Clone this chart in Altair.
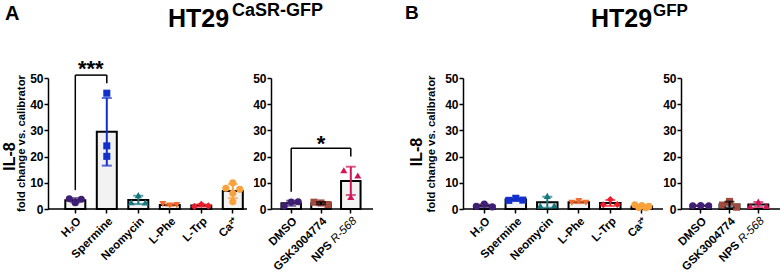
import altair as alt
import pandas as pd
import numpy as np

# ---------------- data ----------------
LEFT_CATS = ["H₂O", "Spermine", "Neomycin", "L-Phe", "L-Trp", "Ca²⁺"]
RIGHT_CATS = ["DMSO", "GSK3004774", "NPS R-568"]
Y_TICKS = [0, 10, 20, 30, 40, 50]

# Panel A: HT29 CaSR-GFP
A_H2O = [3.9, 3.7, 2.4]
A_SPERMINE = [44.2, 24.1, 20.1]
A_NEOMYCIN = [5.3, 2.6, 2.5]
A_LPHE = [1.9, 1.3, 1.5]
A_LTRP = [1.8, 1.0, 1.2]
A_CA = [10.0, 7.9, 7.5, 6.0, 2.8]
A_DMSO = [1.1, 2.7, 2.8]
A_GSK = [2.6, 2.3, 1.7]
A_NPS = [14.8, 12.8, 4.6]

# Panel B: HT29 GFP
B_H2O = [1.0, 1.9, 0.8]
B_SPERMINE = [3.3, 4.1, 3.4]
B_NEOMYCIN = [5.0, 1.3, 1.4]
B_LPHE = [2.4, 3.0, 2.4]
B_LTRP = [3.6, 1.6, 1.7]
B_CA = [1.6, 1.3, 1.0, 0.6, 0.5]
B_DMSO = [1.2, 1.3, 1.2]
B_GSK = [2.9, 1.5, 0.7]
B_NPS = [2.8, 1.1, 1.2]

# ---------------- styles ----------------
LEFT_COLORS = ["#3E1F73", "#1430CC", "#17777E", "#F26A2C", "#EE1C2B", "#F9A13C"]
RIGHT_COLORS = ["#3E1F73", "#A4493D", "#CF1458"]
LEFT_ERR = LEFT_COLORS
RIGHT_ERR = ["#3E1F73", "black", "#CF1458"]
LEFT_SHAPES = ["circle", "square", "triangle-up", "triangle-down", "diamond", "circle"]
RIGHT_SHAPES = ["circle", "square", "triangle-up"]

A_LEFT_OFFS = [[-6, 6, 0], [0, 0, 0], [0, -7, 7], [-7, 0, 7], [0, -7, 7], [0, -7, 7, 0, 0]]
A_RIGHT_OFFS = [[-7, 0, 7], [-7, 0, 7], [-7, 7, 0]]
B_LEFT_OFFS = [[-8, 0, 8], [-7, 0, 7], [0, -7, 7], [-7, 0, 7], [0, -7, 7], [-7, 0, 7, -3, 4]]
B_RIGHT_OFFS = [[-8, 0, 8], [0, -7, 7], [0, -8, 8]]

H = 131
FONT = "Liberation Sans"
XLAB_SIZE = 11.5
ONE = pd.DataFrame({"k": [0]})
NPS_CAT = RIGHT_CATS[2]


def band_scale(cats, R, s, b, c0):
    n = len(cats)
    pi = 1 - b / s
    po = min(max((R / s - n + pi) / 2, 0), 1)
    free = R - s * (n - pi)
    align = min(max((c0 - b / 2) / free, 0), 1)
    return alt.Scale(domain=cats, range=[0, R], paddingInner=pi, paddingOuter=po, align=align)


def text(t, x, y, size, weight="bold", align="left", baseline="alphabetic", angle=0, style="normal"):
    kw = dict(text=t, fontSize=size, fontWeight=weight, align=align, baseline=baseline,
              color="black", font=FONT, fontStyle=style)
    if angle:
        kw["angle"] = angle
    return alt.Chart(ONE).mark_text(**kw).encode(x=alt.value(x), y=alt.value(y))


def anchor(x, y):
    return alt.Chart(ONE).mark_rule(opacity=0, strokeWidth=0).encode(
        x=alt.value(x), x2=alt.value(x), y=alt.value(y), y2=alt.value(y))


def panel(cats, groups, colors, errcolors, shapes, offsets, W, s, b, c0, axis_len, extras):
    rows, summ = [], []
    for cat, vals, col, ecol, shp, offs in zip(cats, groups, colors, errcolors, shapes, offsets):
        arr = np.array(vals, dtype=float)
        m = arr.mean()
        sd = arr.std(ddof=1)
        summ.append(dict(cat=cat, mean=m, lo=max(m - sd, 0), hi=m + sd, ecol=ecol))
        for v, o in zip(vals, offs):
            rows.append(dict(cat=cat, val=v, off=o, col=col, shp=shp))
    sdf = pd.DataFrame(summ)
    pdf = pd.DataFrame(rows)

    xaxis = alt.Axis(labelAngle=-45, labelFontWeight="bold", labelFontSize=XLAB_SIZE,
                     labelColor="black", labelFont=FONT, tickColor="black", tickWidth=1.5,
                     tickSize=4, domain=False, labelPadding=2, title=None, grid=False,
                     labelAlign="right", labelBaseline="top",
                     labelExpr=f"datum.label == '{NPS_CAT}' ? '' : datum.label")
    yaxis = alt.Axis(values=Y_TICKS, labelFontWeight="bold", labelFontSize=12, labelColor="black",
                     labelFont=FONT, domainColor="black", domainWidth=1.5, tickColor="black",
                     tickWidth=1.5, tickSize=4, labelPadding=1, grid=False, title=None)
    sc = band_scale(cats, axis_len, s, b, c0)
    ysc = alt.Scale(domain=[0, 50], nice=False)

    def X():
        return alt.X("cat:N", scale=sc, axis=xaxis, title=None)

    def Y(f):
        return alt.Y(f, scale=ysc, axis=yaxis, title=None)

    bars = alt.Chart(sdf).mark_bar(fill="#F2F2F2", stroke="black", strokeWidth=2).encode(
        x=X(), y=Y("mean:Q"))
    base = alt.Chart(ONE).mark_rule(color="black", strokeWidth=1.5).encode(
        x=alt.value(0), x2=alt.value(axis_len), y=alt.value(H))
    pts = alt.Chart(pdf).mark_point(filled=True, size=50, opacity=1, strokeWidth=0,
                                    xOffset={"expr": "datum.off"}).encode(
        x=X(), y=Y("val:Q"),
        color=alt.Color("col:N", scale=None), shape=alt.Shape("shp:N", scale=None))
    err = alt.Chart(sdf).mark_rule(strokeWidth=2).encode(
        x=X(), y=Y("lo:Q"), y2="hi:Q", color=alt.Color("ecol:N", scale=None))
    cap_lo = alt.Chart(sdf).mark_tick(thickness=2, size=10).encode(
        x=X(), y=Y("lo:Q"), color=alt.Color("ecol:N", scale=None))
    cap_hi = alt.Chart(sdf).mark_tick(thickness=2, size=10).encode(
        x=X(), y=Y("hi:Q"), color=alt.Color("ecol:N", scale=None))

    layers = [bars, base, pts, err, cap_lo, cap_hi]
    if NPS_CAT in cats:
        ndf = pd.DataFrame({"cat": [NPS_CAT]})
        # "NPS R-568" label drawn in two parts: bold "NPS" and italic "R-568"
        layers.append(alt.Chart(ndf).mark_text(
            text="R-568", fontSize=XLAB_SIZE, fontStyle="italic", fontWeight="normal",
            font=FONT, color="black", angle=315, align="right", baseline="top").encode(
            x=X(), y=alt.value(H + 6)))
        layers.append(alt.Chart(ndf).mark_text(
            text="NPS", fontSize=XLAB_SIZE, fontWeight="bold", dx=-XLAB_SIZE * 3.0,
            font=FONT, color="black", angle=315, align="right", baseline="top").encode(
            x=X(), y=alt.value(H + 6)))
    for e in extras:
        layers.append(e(X, Y))
    return alt.layer(*layers).properties(width=W, height=H)


def bracket(c1, c2, top, b1, b2):
    def make(X, Y):
        df = pd.DataFrame({"cat": [c1, c2], "bot": [b1, b2], "top": [top, top]})
        legs = alt.Chart(df).mark_rule(color="black", strokeWidth=1.5).encode(
            x=X(), y=Y("bot:Q"), y2="top:Q")
        dh = pd.DataFrame({"cat": [c1], "cat2": [c2], "top": [top]})
        horiz = alt.Chart(dh).mark_rule(color="black", strokeWidth=1.5).encode(
            x=X(), x2="cat2:N", y=Y("top:Q"))
        return alt.layer(legs, horiz)
    return make


def fixed(ch):
    return lambda X, Y: ch


# ---------------- panels ----------------
p1 = panel(LEFT_CATS, [A_H2O, A_SPERMINE, A_NEOMYCIN, A_LPHE, A_LTRP, A_CA],
           LEFT_COLORS, LEFT_ERR, LEFT_SHAPES, A_LEFT_OFFS,
           W=223, s=31.5, b=20, c0=27.3, axis_len=199,
           extras=[
               bracket("H₂O", "Spermine", 51.1, 7.2, 48.0),
               fixed(text("***", 42.8, -2.4, 22, align="center")),
               fixed(anchor(-48, -78)),
               fixed(text("A", -43, -58, 20)),
               fixed(text("HT29", 120, -51, 25)),
               fixed(text("CaSR-GFP", 184, -62.5, 18)),
               fixed(text("IL-8", -38.5, 78.5, 16, align="center", baseline="middle", angle=270)),
               fixed(text("fold change vs. calibrator", -25.7, 65.5, 11.3,
                          align="center", baseline="middle", angle=270)),
           ])

p2 = panel(RIGHT_CATS, [A_DMSO, A_GSK, A_NPS],
           RIGHT_COLORS, RIGHT_ERR, RIGHT_SHAPES, A_RIGHT_OFFS,
           W=192, s=29.8, b=19.5, c0=20.2, axis_len=102,
           extras=[
               bracket("DMSO", NPS_CAT, 23.2, 6.6, 20.0),
               fixed(text("*", 50, 72.6, 22, align="center")),
           ])

p3 = panel(LEFT_CATS, [B_H2O, B_SPERMINE, B_NEOMYCIN, B_LPHE, B_LTRP, B_CA],
           LEFT_COLORS, LEFT_ERR, LEFT_SHAPES, B_LEFT_OFFS,
           W=218, s=31.5, b=20.5, c0=21.3, axis_len=200,
           extras=[
               fixed(text("B", -58, -59, 19)),
               fixed(text("HT29", 128, -51, 25)),
               fixed(text("GFP", 190, -62, 17)),
               fixed(text("IL-8", -46, 74, 16, align="center", baseline="middle", angle=270)),
               fixed(text("fold change vs. calibrator", -31.5, 66, 11.3,
                          align="center", baseline="middle", angle=270)),
           ])

p4 = panel(RIGHT_CATS, [B_DMSO, B_GSK, B_NPS],
           RIGHT_COLORS, RIGHT_ERR, RIGHT_SHAPES, B_RIGHT_OFFS,
           W=100, s=28.8, b=20, c0=19.7, axis_len=99,
           extras=[])

chart = alt.hconcat(p1, p2, p3, p4, spacing=0, bounds="flush").properties(
    padding=0
).configure(font=FONT).configure_view(stroke=None)

chart.save("out.html", embed_options={"renderer": "svg", "actions": False})
